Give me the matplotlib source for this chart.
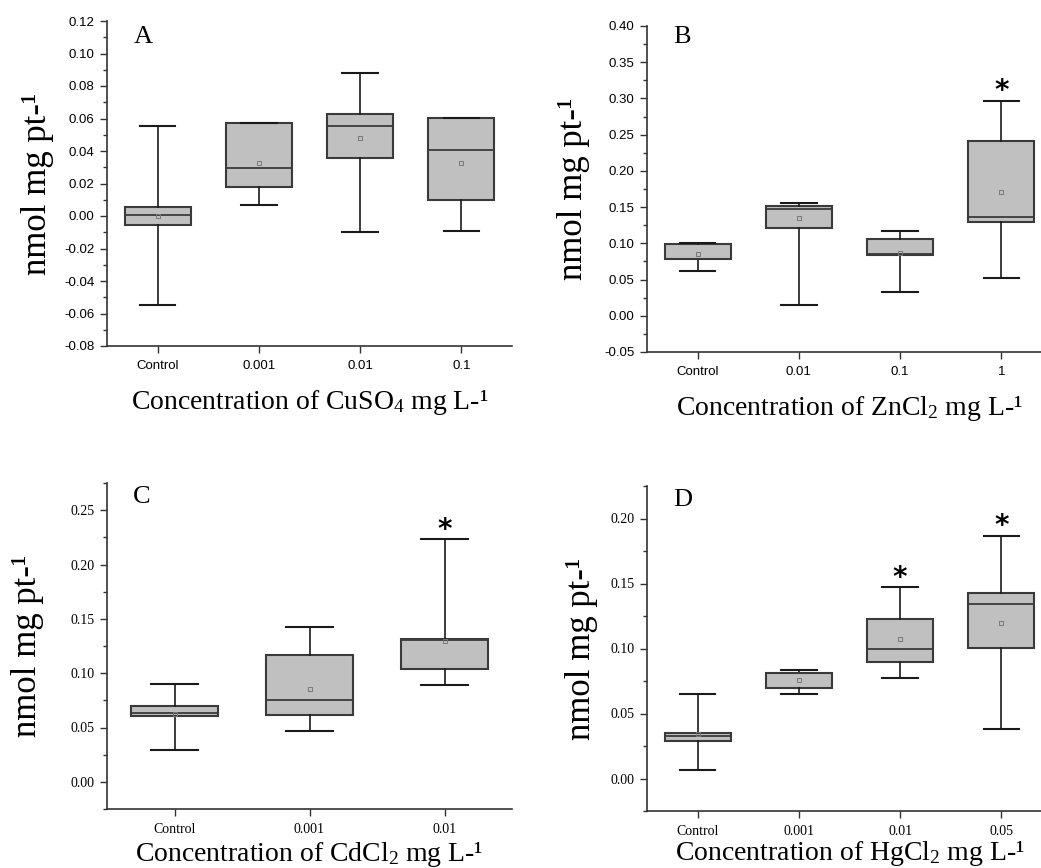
import numpy as np
import matplotlib
matplotlib.use("Agg")
import matplotlib.pyplot as plt
from matplotlib.ticker import MultipleLocator, FormatStrFormatter

plt.rcParams["mathtext.fontset"] = "custom"
plt.rcParams["mathtext.rm"] = "Liberation Serif"
plt.rcParams["mathtext.it"] = "Liberation Serif:italic"

# ── Panel A: CuSO4 ──────────────────────────────────────────────────────────
a_labels = ["Control", "0.001", "0.01", "0.1"]
a_whislo = [-0.055, 0.0065, -0.010, -0.009]
a_q1     = [-0.0058, 0.018, 0.0356, 0.0096]
a_med    = [0.0005, 0.0296, 0.0555, 0.0409]
a_q3     = [0.0055, 0.0573, 0.0628, 0.0606]
a_whishi = [0.0555, 0.0573, 0.088, 0.0606]
a_mean   = [0.0, 0.0329, 0.0477, 0.0329]
a_stars  = [False, False, False, False]

# ── Panel B: ZnCl2 ──────────────────────────────────────────────────────────
b_labels = ["Control", "0.01", "0.1", "1"]
b_whislo = [0.0625, 0.0142, 0.0326, 0.0515]
b_q1     = [0.0777, 0.1205, 0.0837, 0.130]
b_med    = [0.079, 0.1472, 0.085, 0.136]
b_q3     = [0.099, 0.1518, 0.1053, 0.2416]
b_whishi = [0.1007, 0.155, 0.1173, 0.297]
b_mean   = [0.0846, 0.135, 0.087, 0.171]
b_stars  = [False, False, False, True]

# ── Panel C: CdCl2 ──────────────────────────────────────────────────────────
c_labels = ["Control", "0.001", "0.01"]
c_whislo = [0.0289, 0.0471, 0.0895]
c_q1     = [0.0603, 0.0612, 0.104]
c_med    = [0.063, 0.0756, 0.1304]
c_q3     = [0.0695, 0.1169, 0.131]
c_whishi = [0.0898, 0.1427, 0.2232]
c_mean   = [0.062, 0.085, 0.130]
c_stars  = [False, False, True]

# ── Panel D: HgCl2 ──────────────────────────────────────────────────────────
d_labels = ["Control", "0.001", "0.01", "0.05"]
d_whislo = [0.0066, 0.0652, 0.0772, 0.0381]
d_q1     = [0.0289, 0.0693, 0.0893, 0.1002]
d_med    = [0.033, 0.081, 0.100, 0.1343]
d_q3     = [0.035, 0.0813, 0.1225, 0.1425]
d_whishi = [0.065, 0.0836, 0.147, 0.1864]
d_mean   = [0.034, 0.076, 0.1074, 0.120]
d_stars  = [False, False, True, True]

box_fill = "#c0c0c0"
edge_col = "#3a3a3a"
axis_col = "#333333"

fig = plt.figure(figsize=(10.41, 8.68), dpi=100)
W, H = 1041.0, 868.0


def add_panel(px_left, px_right, px_top, px_bottom):
    return fig.add_axes([px_left / W, 1 - px_bottom / H,
                         (px_right - px_left) / W, (px_bottom - px_top) / H])


def draw_panel(ax, labels, whislo, q1, med, q3, whishi, mean, stars,
               ylim, major, minor, tick_font, tick_size, letter, letter_y, salt):
    stats = []
    for i in range(len(labels)):
        stats.append(dict(whislo=whislo[i], q1=q1[i], med=med[i], q3=q3[i],
                          whishi=whishi[i], mean=mean[i], fliers=[]))
    pos = np.arange(1, len(labels) + 1)
    ax.bxp(stats, positions=pos, widths=0.65, capwidths=0.35,
           patch_artist=True, showmeans=True,
           boxprops=dict(facecolor=box_fill, edgecolor=edge_col, linewidth=1.5),
           medianprops=dict(color=edge_col, linewidth=1.3),
           whiskerprops=dict(color="#1a1a1a", linewidth=1.2),
           capprops=dict(color="#1a1a1a", linewidth=1.5),
           meanprops=dict(marker="s", markersize=3.5, markerfacecolor="none",
                          markeredgecolor="#777777", markeredgewidth=0.7))
    # significance stars just above the upper whisker
    for i, s in enumerate(stars):
        if s:
            ax.annotate("*", xy=(pos[i], whishi[i]), xytext=(0, 7),
                        textcoords="offset points", ha="center", va="center",
                        fontsize=20, fontweight="bold", family="DejaVu Sans")

    ax.set_xlim(0.5, len(labels) + 0.5)
    ax.set_ylim(*ylim)
    ax.set_xticks(pos)
    ax.set_xticklabels(labels, family=tick_font, fontsize=tick_size)
    ax.yaxis.set_major_locator(MultipleLocator(major))
    ax.yaxis.set_minor_locator(MultipleLocator(minor))
    ax.yaxis.set_major_formatter(FormatStrFormatter("%.2f"))
    for lbl in ax.get_yticklabels():
        lbl.set_family(tick_font)
        lbl.set_fontsize(tick_size)
    ax.tick_params(axis="both", which="major", direction="out", length=5,
                   width=1, color=axis_col, pad=4)
    ax.tick_params(axis="y", which="minor", direction="out", length=3,
                   width=1, color=axis_col)
    ax.tick_params(axis="x", which="major", pad=5)
    for side in ("top", "right"):
        ax.spines[side].set_visible(False)
    for side in ("left", "bottom"):
        ax.spines[side].set_color(axis_col)
        ax.spines[side].set_linewidth(1.2)

    ax.set_xlabel(f"Concentration of {salt} mg L-¹", family="Liberation Serif",
                  fontsize=20)
    ax.set_ylabel("nmol mg pt-¹", family="Liberation Serif", fontsize=25)
    ax.text(0.065, letter_y, letter, transform=ax.transAxes, ha="left", va="top",
            fontsize=19, family="Liberation Serif")
    ax.patch.set_alpha(0)


ax_a = add_panel(107, 512, 21, 346)
draw_panel(ax_a, a_labels, a_whislo, a_q1, a_med, a_q3, a_whishi, a_mean, a_stars,
           (-0.08, 0.12), 0.02, 0.01, "Liberation Sans", 9.5, "A", 0.985,
           "CuSO$_{4}$")
ax_a.xaxis.set_label_coords(0.5, -0.13)
ax_a.yaxis.set_label_coords(-0.13, 0.5)

ax_b = add_panel(647, 1052, 26, 352)
draw_panel(ax_b, b_labels, b_whislo, b_q1, b_med, b_q3, b_whishi, b_mean, b_stars,
           (-0.05, 0.40), 0.05, 0.025, "Liberation Sans", 9.5, "B", 1.0,
           "ZnCl$_{2}$")
ax_b.xaxis.set_label_coords(0.5, -0.13)
ax_b.yaxis.set_label_coords(-0.14, 0.5)

ax_c = add_panel(107, 512, 483, 809)
draw_panel(ax_c, c_labels, c_whislo, c_q1, c_med, c_q3, c_whishi, c_mean, c_stars,
           (-0.025, 0.275), 0.05, 0.025, "Liberation Serif", 10, "C", 0.99,
           "CdCl$_{2}$")
ax_c.xaxis.set_label_coords(0.5, -0.095)
ax_c.yaxis.set_label_coords(-0.155, 0.5)

ax_d = add_panel(647, 1052, 486, 811)
draw_panel(ax_d, d_labels, d_whislo, d_q1, d_med, d_q3, d_whishi, d_mean, d_stars,
           (-0.025, 0.225), 0.05, 0.025, "Liberation Serif", 10, "D", 0.99,
           "HgCl$_{2}$")
ax_d.xaxis.set_label_coords(0.5, -0.085)
ax_d.yaxis.set_label_coords(-0.12, 0.5)

fig.savefig("out.png", dpi=100, facecolor="white")
